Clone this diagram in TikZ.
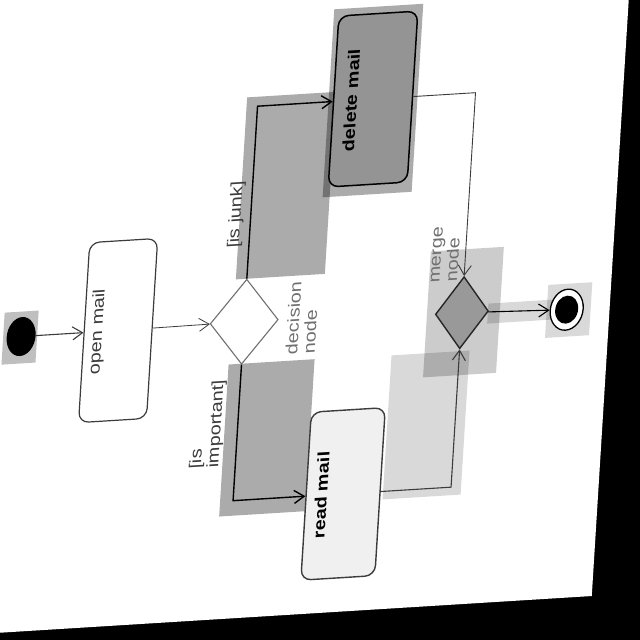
\documentclass[tikz,border=0pt]{standalone}
\usepackage{fontspec}
\setmainfont{Liberation Sans}[FakeStretch=1.2]
\usetikzlibrary{arrows.meta, shapes.geometric}
\definecolor{linegray}{HTML}{3C3C3C}
\definecolor{notegray}{HTML}{707070}
\definecolor{deletefill}{gray}{0.58}
\definecolor{readfill}{gray}{0.94}
\definecolor{mergefill}{gray}{0.60}

\begin{document}
\begin{tikzpicture}[
    x=1pt, y=-1pt,
    font=\fontsize{16.5}{17.5}\selectfont,
    action/.style={rectangle, rotate=90, rounded corners=10pt, draw=linegray,
                   line width=1.2pt, text height=12pt, text depth=44pt},
    choice/.style={diamond, inner sep=0pt, line width=1.1pt},
    roundnode/.style={ellipse, inner sep=0pt},
    guard/.style={rotate=90, align=left, text=linegray},
    note/.style={rotate=90, align=left, text=notegray},
    flow/.style={-{Straight Barb[length=10pt, width=13pt]}, line width=1.1pt, linegray},
    glow/.style={fill=black, fill opacity=#1},
  ]
  \useasboundingbox (0,0) rectangle (640,640);
  \clip (0,0) rectangle (640,640);
  \fill[black] (0,0) rectangle (640,640);

  \begin{scope}[shift={(320,320)}, cm={1,0.062,0.062,1,(0,0)}, shift={(-320,-320)}, transform shape]
    \fill[white] (-80,-80) rectangle (610,614);

    % highlight patches
    \fill[glow=0.25] (3,293) rectangle (37,345);
    \fill[glow=0.33] (233,92) rectangle (322,274);
    \fill[glow=0.33] (231,359) rectangle (317,511);
    \fill[glow=0.33] (315,9) rectangle (404,197);
    \fill[glow=0.15] (394,360) rectangle (472,504);
    \fill[glow=0.20] (427,258) rectangle (500,384);
    \fill[glow=0.15] (488,314) rectangle (552,334);
    \fill[glow=0.15] (547,299) rectangle (591,352);

    % activities
    \node[roundnode, fill=black, minimum width=29pt, minimum height=39pt] (init) at (21,318) {};
    \node[action, fill=white, text=linegray, minimum width=180pt, minimum height=68pt] (open) at (118,318) {open mail};
    \node[choice, draw=notegray, fill=white, minimum width=68pt, minimum height=85pt] (dec) at (244,317) {};
    \node[action, draw=black, fill=deletefill, line width=1.5pt, font=\fontsize{16.5}{17.5}\selectfont\bfseries,
          minimum width=171pt, minimum height=79pt] (del) at (359.5,101.5) {delete mail};
    \node[action, fill=readfill, line width=1.4pt, font=\fontsize{16.5}{17.5}\selectfont\bfseries,
          minimum width=168pt, minimum height=74pt] (read) at (354,496) {read mail};
    \node[choice, draw=black!85, fill=mergefill, line width=1.4pt, minimum width=53pt, minimum height=72pt] (mrg) at (462,321.5) {};
    \node[roundnode, draw=black, fill=white, line width=1.3pt, minimum width=33pt, minimum height=41pt] (finring) at (567,325) {};
    \node[roundnode, fill=black, minimum width=23pt, minimum height=28pt] (findot) at (finring) {};

    % labels
    \node[guard] (junklbl) at (229.5,209) {[is junk]};
    \node[guard] (implbl) at (214,418) {[is\\important]};
    \node[note] (declbl) at (302,316.5) {decision\\node};
    \node[note] (mrglbl) at (442,262) {merge\\node};

    % flows
    \draw[flow] (init) -- (open);
    \draw[flow, line width=0.8pt] (open) -- (dec);
    \draw[flow, black, line width=1.4pt] (dec) |- (del);
    \draw[flow, black, line width=1.4pt] (dec) |- (read);
    \draw[flow, line width=0.9pt] (del) -| (mrg);
    \draw[flow] (read) -| (mrg);
    \draw[flow, black] (mrg) -- (finring);
  \end{scope}
\end{tikzpicture}
\end{document}
